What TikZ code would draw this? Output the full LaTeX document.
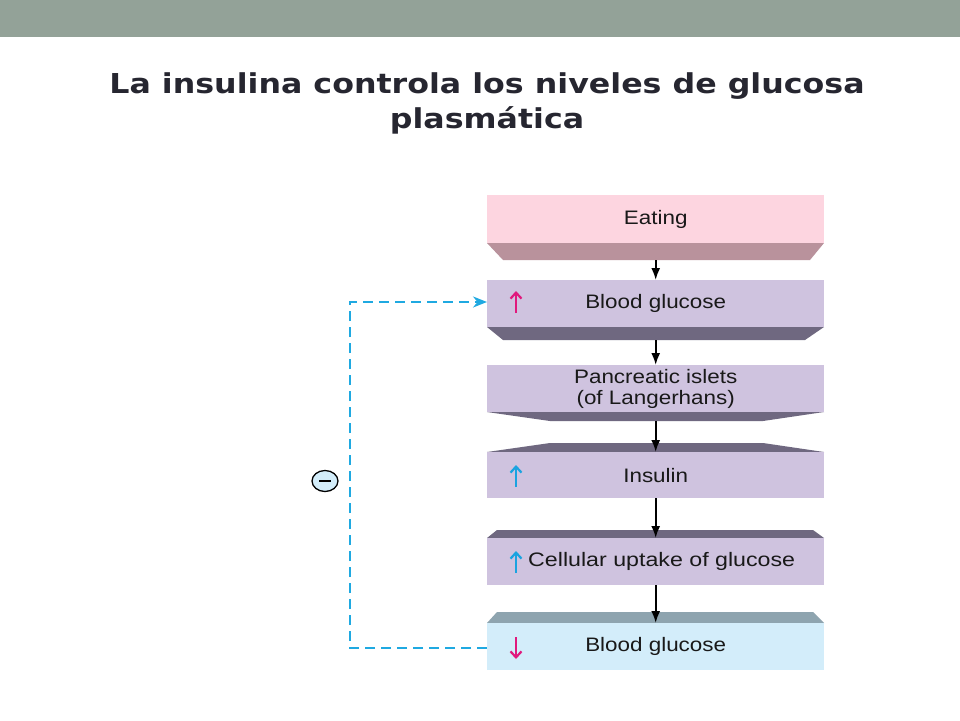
\documentclass[tikz,border=0pt]{standalone}
\usepackage{fontspec}
\setmainfont{Liberation Sans}
\newfontfamily\titlefont{DejaVu Sans}
\usetikzlibrary{arrows.meta,shapes.geometric}
\definecolor{topbar}{HTML}{93A298}
\definecolor{titlecol}{HTML}{262630}
\definecolor{pinkface}{HTML}{FDD5E0}
\definecolor{pinkbevel}{HTML}{B9929C}
\definecolor{purpface}{HTML}{CFC3DF}
\definecolor{purpbevel}{HTML}{6F6880}
\definecolor{blueface}{HTML}{D3EDFA}
\definecolor{bluebevel}{HTML}{8EA4AF}
\definecolor{magarrow}{HTML}{E0197D}
\definecolor{cyanarrow}{HTML}{1AA3E0}
\definecolor{dashcol}{HTML}{1FA9E1}
\newcommand{\boxtext}[1]{\scalebox{1.15}[1]{#1}}
\newcommand{\titletext}[1]{\scalebox{1.156}[1]{#1}}
\tikzset{
  x=1pt, y=-1pt,
  face/.style={draw=none, minimum width=337pt, inner sep=0pt, anchor=north west,
    font=\fontsize{19.5pt}{22pt}\selectfont, align=center, text=black!90},
  flowarr/.style={line width=1.8pt, -{Latex[length=12pt,width=9pt]}},
  fbarr/.style={line width=2pt, dashcol, dash pattern=on 10pt off 6pt,
    -{Stealth[length=14pt,width=11pt]}},
  smallarr/.style={line width=2.4pt, -{Straight Barb[length=6pt,width=11pt,line width=2.2pt]}},
}
\begin{document}
\begin{tikzpicture}
\useasboundingbox (0,0) rectangle (960,720);
\fill[white] (0,0) rectangle (960,720);
\fill[topbar] (0,0) rectangle (960,37);
\node[titlecol, font=\titlefont\bfseries\fontsize{27.4pt}{35pt}\selectfont, align=center, anchor=base]
  (title) at (487,128) {\titletext{La insulina controla los niveles de glucosa}\\\titletext{plasmática}};

% boxes
\node[face, fill=pinkface, minimum height=48pt] (b1) at (487,195) {\boxtext{Eating}};
\fill[pinkbevel] (487,243) -- (824,243) -- (810,260) -- (503,260) -- cycle;

\node[face, fill=purpface, minimum height=47pt] (b2) at (487,280) {\boxtext{Blood glucose}};
\fill[purpbevel] (487,327) -- (824,327) -- (805,340) -- (503,340) -- cycle;

\node[face, fill=purpface, minimum height=47pt] (b3) at (487,365) {\boxtext{Pancreatic islets}\\[-1pt]\boxtext{(of Langerhans)}};
\fill[purpbevel] (487,412) -- (824,412) -- (763,421) -- (550,421) -- cycle;

\fill[purpbevel] (550,443) -- (763,443) -- (824,452) -- (487,452) -- cycle;
\node[face, fill=purpface, minimum height=46pt] (b4) at (487,452) {\boxtext{Insulin}};

\fill[purpbevel] (497,530) -- (813,530) -- (824,538) -- (487,538) -- cycle;
\node[face, fill=purpface, minimum height=47pt] (b5) at (487,538) {\hspace*{12pt}\scalebox{1.19}[1]{Cellular uptake of glucose}};

\fill[bluebevel] (497,612) -- (813,612) -- (824,623) -- (487,623) -- cycle;
\node[face, fill=blueface, minimum height=47pt] (b6) at (487,623) {\boxtext{Blood glucose}};

% small arrows inside boxes
\draw[smallarr, magarrow] (516,313) -- (516,291);
\draw[smallarr, cyanarrow] (516,487) -- (516,465);
\draw[smallarr, cyanarrow] (516,573) -- (516,551);
\draw[smallarr, magarrow] (516,637) -- (516,659);

% flow arrows
\draw[flowarr] ([yshift=-17pt]b1.south) -- (b2.north);
\draw[flowarr] ([yshift=-13pt]b2.south) -- (b3.north);
\draw[flowarr] ([yshift=-9pt]b3.south) -- (b4.north);
\draw[flowarr] (b4.south) -- (b5.north);
\draw[flowarr] (b5.south) -- (b6.north);

% feedback
\coordinate (fbl) at (350,648);
\coordinate (fbu) at (350,302);
\draw[fbarr] (b6.west |- fbl) -- (fbl) -- (fbu) -- (b2.west |- fbu);
\node[draw=black, line width=1.3pt, fill=blueface, ellipse, minimum width=26pt, minimum height=21pt, inner sep=0pt] (minus) at (325,481) {};
\draw[line width=1.6pt] ([xshift=-6pt]minus.center) -- ([xshift=6pt]minus.center);
\end{tikzpicture}
\end{document}
